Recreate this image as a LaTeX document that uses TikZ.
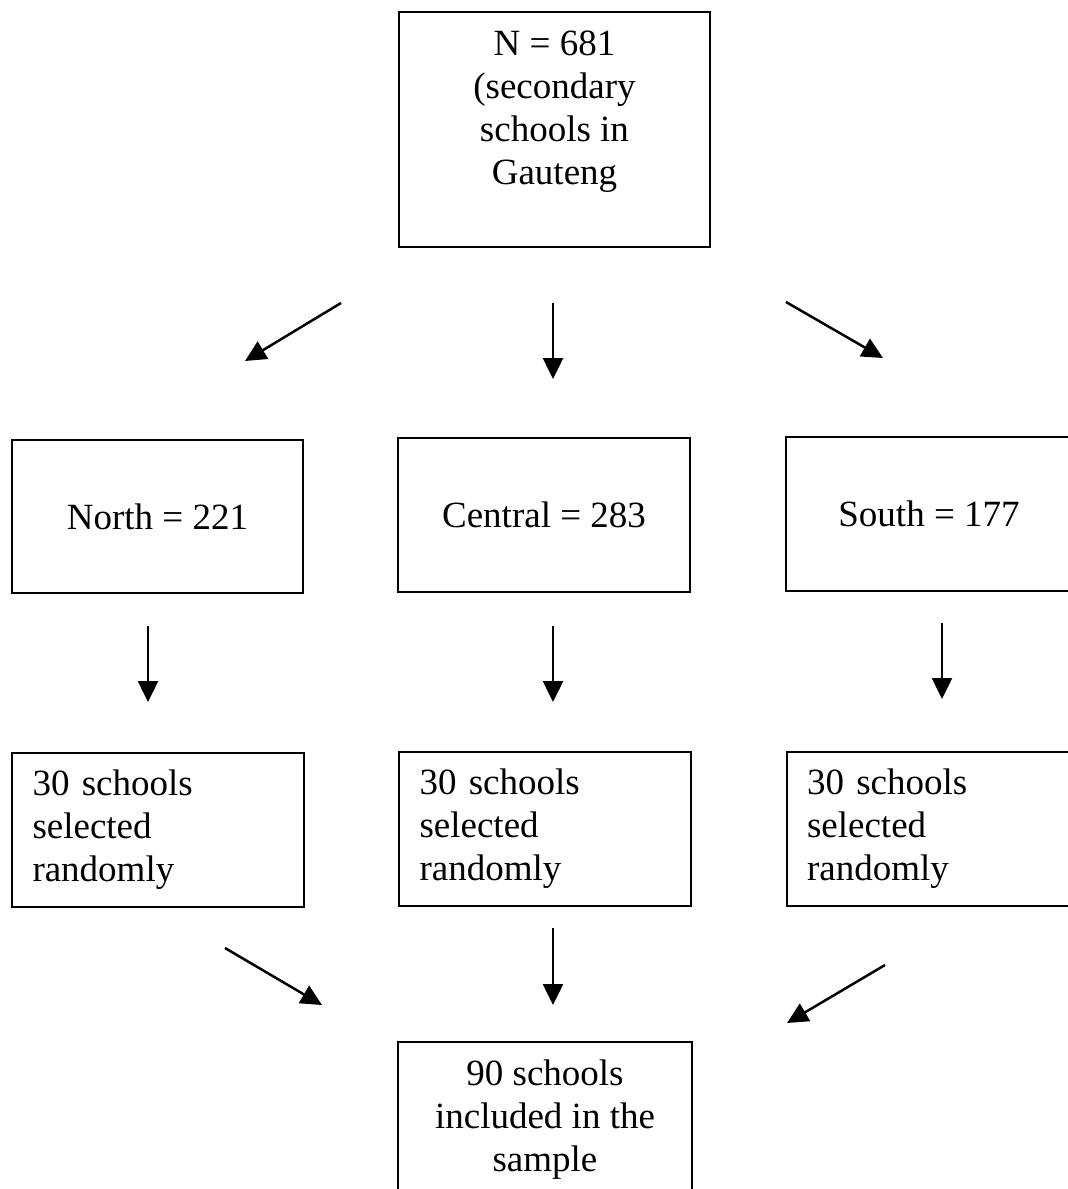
\documentclass[tikz,border=0pt]{standalone}
\usepackage{fontspec}
\setmainfont{Liberation Serif}
\usetikzlibrary{arrows.meta}
\usetikzlibrary{positioning}

\tikzset{
    box/.style={draw, line width=2pt, inner sep=0pt, font=\fontsize{37}{43}\selectfont},
    sbox/.style={box, text width=250pt, inner xsep=21pt, align=left, minimum height=154pt},
    arr/.style={line width=2.5pt, -{Triangle[length=21pt,width=20pt]}}
}

\begin{document}
\begin{tikzpicture}[x=1pt,y=-1pt]
        \clip (0,0) rectangle (1068,1189);
        % population
        \node[box, minimum width=311pt, minimum height=235pt, align=center] (gauteng) at (554.5,129.5) {N = 681\\(secondary\\schools in\\Gauteng\\ \mbox{}};
        % regions
        \node[box, minimum width=291pt, minimum height=153pt] (north) at (157.5,516.5) {North = 221};
        \node[box, minimum width=292pt, minimum height=154pt] (central) at (544,515) {Central = 283};
        \node[box, minimum width=286pt, minimum height=154pt] (south) at (929,514) {South = 177};
        % random selection
        \node[sbox] (northsel) at (157.5,830) {30 schools\\selected\\randomly};
        \node[sbox] (centralsel) at (544.5,829) {30 schools\\selected\\randomly};
        \node[sbox, text width=245pt, inner xsep=20pt] (southsel) at (929.5,828.5) {30 schools\\selected\\randomly};
        % sample
        \node[box, minimum width=294pt, minimum height=156pt, align=center] (sample) at (545,1120) {90 schools\\included in the\\sample};
        % arrow ends
        \coordinate (a1) at (341,303);  \coordinate (b1) at (245,361);
        \coordinate (a2) at (553,303);  \coordinate (b2) at (553,379);
        \coordinate (a3) at (786,302);  \coordinate (b3) at (883,358);
        \coordinate (a4) at (148,626);  \coordinate (b4) at (148,702);
        \coordinate (a5) at (553,626);  \coordinate (b5) at (553,702);
        \coordinate (a6) at (942,623);  \coordinate (b6) at (942,699);
        \coordinate (a7) at (225,948);  \coordinate (b7) at (322,1005);
        \coordinate (a8) at (553,928);  \coordinate (b8) at (553,1005);
        \coordinate (a9) at (885,965);  \coordinate (b9) at (787,1023);
        \foreach \i in {1,...,9}
            \draw[arr] (a\i) -- (b\i);
\end{tikzpicture}
\end{document}
